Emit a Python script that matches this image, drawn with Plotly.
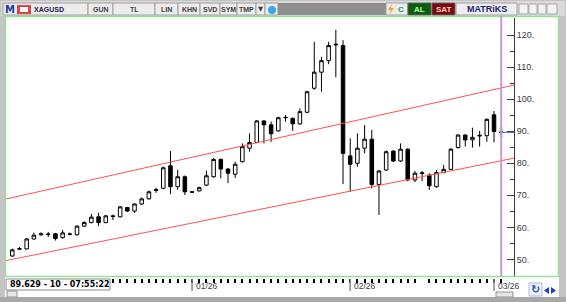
import plotly.graph_objects as go

W, H = 566, 302
def X(px): return px / W
def Y(py): return 1 - py / H

# ---------------- data ----------------
idx = list(range(1, 70))
opens = [51.1, 53.2, 53.3, 56.4, 57.7, 57.8, 58.0, 56.8, 57.8, 57.7,
         60.4, 61.5, 63.3, 61.5, 63.6, 63.3, 66.2, 65.1, 67.3, 68.9,
         71.5, 72.2, 79.2, 72.7, 75.8, 71.1, 71.4, 73.2, 75.8, 81.2,
         78.2, 76.6, 80.5, 84.7, 86.5, 93.2, 92.0, 90.1, 94.2, 94.0,
         92.3, 95.9, 103.4, 108.4, 112.0, 116.9, 116.7, 82.3, 80.0, 84.7,
         87.5, 73.4, 77.9, 83.8, 80.7, 84.4, 74.8, 76.8, 76.3, 72.7,
         77.1, 78.1, 84.9, 88.8, 87.3, 88.5, 88.6, 95.1, 89.75]
highs = [53.4, 53.9, 56.7, 58.4, 58.5, 58.6, 58.3, 59.2, 58.4, 60.6,
         61.9, 64.2, 64.6, 63.9, 64.0, 66.7, 66.4, 67.5, 69.3, 71.5,
         72.4, 79.0, 83.8, 77.9, 76.2, 71.2, 72.7, 77.7, 81.6, 81.5,
         78.5, 80.5, 86.2, 89.3, 93.5, 93.4, 93.0, 94.5, 95.1, 94.3,
         97.1, 102.6, 117.9, 113.2, 117.9, 121.6, 118.4, 87.8, 89.3, 91.9,
         90.4, 77.9, 84.0, 84.1, 86.2, 84.7, 77.6, 77.6, 76.9, 77.9,
         79.5, 84.7, 89.1, 89.1, 91.1, 90.1, 94.0, 96.3, 90.1]
lows = [50.8, 52.9, 53.1, 56.2, 57.4, 57.0, 55.9, 56.5, 57.5, 57.5,
        60.2, 61.3, 60.4, 61.3, 62.3, 63.1, 64.8, 64.5, 67.0, 68.7,
        70.8, 71.9, 70.4, 71.7, 70.1, 70.9, 71.2, 72.9, 75.5, 75.3,
        73.8, 75.4, 80.2, 83.6, 86.3, 86.2, 86.7, 89.9, 93.0, 90.1,
        92.0, 95.6, 102.9, 102.3, 110.9, 106.8, 73.5, 71.1, 78.9, 83.1,
        72.2, 63.9, 77.6, 80.4, 80.4, 74.4, 74.1, 74.4, 71.7, 72.4,
        76.9, 77.9, 84.6, 85.2, 84.9, 85.2, 86.7, 86.5, 89.2]
closes = [53.0, 53.4, 56.4, 57.6, 58.0, 57.9, 56.5, 58.3, 57.95, 60.4,
          61.5, 63.2, 61.5, 63.6, 63.4, 66.4, 65.1, 67.3, 68.9, 71.1,
          71.8, 78.6, 72.7, 75.8, 71.1, 71.0, 72.4, 76.1, 81.2, 78.2,
          76.9, 79.7, 85.2, 86.5, 93.2, 92.0, 89.2, 94.2, 94.3, 92.3,
          96.1, 102.3, 108.4, 112.0, 116.7, 117.1, 83.1, 79.7, 84.7, 87.5,
          73.4, 77.6, 83.6, 80.7, 84.4, 74.8, 76.9, 77.0, 73.0, 77.1,
          78.1, 84.4, 88.8, 87.3, 88.1, 88.7, 93.7, 89.9, 89.63]

# channel lines (candle index, price)
chan_x = [0.0, 71.0]
upper_y = [68.8, 104.5]
lower_y = [49.6, 81.7]

last_price = 89.629
cursor_idx = 69

month_idx = [26, 48, 68]
month_labels = ["01/26", "02/26", "03/26"]

y_ticks = [50, 60, 70, 80, 90, 100, 110, 120]
y_ticktext = ["50.", "60.", "70.", "80.", "90.", "100.", "110.", "120."]
y_minor = [45, 55, 65, 75, 85, 95, 105, 115, 125]

tick_idx = [i for i in range(15, 70) if i != 58]

status_text = "89.629 - 10 - 07:55:22"

x_range = [0.124, 70.78]
y_range = [44.85, 125.3]

# ---------------- figure ----------------
fig = go.Figure()

fig.add_trace(go.Scatter(x=chan_x, y=upper_y, mode="lines",
                         line=dict(color="#ff5252", width=1), hoverinfo="skip"))
fig.add_trace(go.Scatter(x=chan_x, y=lower_y, mode="lines",
                         line=dict(color="#ff5252", width=1), hoverinfo="skip"))

fig.add_trace(go.Candlestick(
    x=idx, open=opens, high=highs, low=lows, close=closes,
    increasing=dict(line=dict(color="#000000", width=1), fillcolor="#ffffff"),
    decreasing=dict(line=dict(color="#000000", width=1), fillcolor="#000000"),
    whiskerwidth=0, hoverinfo="skip"))

fig.add_trace(go.Scatter(x=[cursor_idx, x_range[1]], y=[last_price, last_price],
                         mode="lines", line=dict(color="#6a6ad8", width=1.2),
                         hoverinfo="skip"))

shapes = []
def rect(x0, y0, x1, y1, fill, line=None, lw=1, layer="below"):
    shapes.append(dict(type="rect", xref="paper", yref="paper",
                       x0=X(x0), x1=X(x1), y0=Y(y1), y1=Y(y0),
                       fillcolor=fill, line=dict(color=line or fill, width=lw if line else 0),
                       layer=layer))

# window body
rect(5, 16, 559, 297, "#ffffff")
# toolbar
rect(1, 1, 565, 16, "#dadada")
rect(3, 3, 88, 15, "#ececec", "#a0a0a0")
btns = [(88, 113, "GUN"), (113, 155, "TL"), (155, 178, "LIN"), (178, 200, "KHN"),
        (200, 220, "SVD"), (220, 237, "SYM"), (237, 256, "TMP"), (256, 265, "▼")]
for x0, x1, _ in btns:
    rect(x0, 3, x1, 15, "#ececec", "#a0a0a0")
rect(265, 3, 278, 15, "#ececec", "#a0a0a0")
rect(278, 3, 386, 15, "#8e8e8e")
rect(386, 3, 408, 15, "#ececec", "#a0a0a0")
rect(408, 3, 431, 15, "#0b5d0b", "#606060")
rect(432, 3, 455, 15, "#7a0a0a", "#606060")
rect(456, 3, 517, 15, "#ededf2", "#a0a0a0")
for x0, x1 in [(519, 528), (529, 537), (538, 546), (547, 557)]:
    rect(x0, 4, x1, 14, "#f2f2f2", "#a8a8a8")
# flag icon
rect(17, 5, 31, 14, "#d84848")
rect(20, 7, 28, 12, "#f4f4f4")
# twitter bird
shapes.append(dict(type="circle", xref="paper", yref="paper",
                   x0=X(268), x1=X(276), y0=Y(14), y1=Y(6),
                   fillcolor="#3aa6e8", line=dict(width=0)))
# lightning
shapes.append(dict(type="path", xref="paper", yref="paper",
                   path=f"M {X(392)} {Y(4)} L {X(388)} {Y(10)} L {X(391)} {Y(10)} L {X(389)} {Y(15)} L {X(394)} {Y(8)} L {X(391)} {Y(8)} Z",
                   fillcolor="#f0a020", line=dict(width=0)))

# chart border (green)
rect(5.5, 16.5, 558.5, 276.5, "rgba(0,0,0,0)", "#98e098", 1.5, layer="above")
# status box
rect(6, 279, 110, 290, "#ffffff", "#8a8a8a")
rect(7, 291, 17, 297, "#e6e6e6", "#909090")
rect(496, 292, 513, 297, "#e6e6e6", "#909090")
# bottom strip
rect(0, 297, 566, 302, "#a8a8a8")
# nav icons
shapes.append(dict(type="path", xref="paper", yref="paper",
                   path=f"M {X(549)} {Y(287)} L {X(549)} {Y(294)} L {X(544)} {Y(290.5)} Z",
                   fillcolor="#1f3fc8", line=dict(width=0)))
shapes.append(dict(type="path", xref="paper", yref="paper",
                   path=f"M {X(551)} {Y(287)} L {X(551)} {Y(294)} L {X(556)} {Y(290.5)} Z",
                   fillcolor="#1f3fc8", line=dict(width=0)))
rect(529, 283, 542, 296, "#eef2fb", "#b0b8d0")

# cursor highlight + purple line (data coords)
shapes.append(dict(type="rect", xref="x", yref="y",
                   x0=cursor_idx - 0.3, x1=cursor_idx + 0.3,
                   y0=last_price - 1.6, y1=last_price + 1.6,
                   fillcolor="#c4f2c4", line=dict(width=0), layer="below"))
shapes.append(dict(type="line", xref="x", yref="paper",
                   x0=cursor_idx, x1=cursor_idx, y0=Y(276), y1=Y(16),
                   line=dict(color="#c898d0", width=2), layer="above"))
# month lines
for m in month_idx:
    shapes.append(dict(type="line", xref="x", yref="paper",
                       x0=m, x1=m, y0=Y(291), y1=Y(279),
                       line=dict(color="#8a8a8a", width=1.5)))

annotations = []
def txt(x, y, s, size=7, color="#303030", bold=True, family="Liberation Sans", xanchor="center", xref="paper", xshift=0):
    annotations.append(dict(x=x if xref != "paper" else X(x), y=Y(y), xref=xref, yref="paper",
                            text=f"<b>{s}</b>" if bold else s, showarrow=False,
                            xanchor=xanchor, yanchor="middle", xshift=xshift,
                            font=dict(size=size, color=color, family=family)))

txt(10, 9.5, "M", 10, "#1a3aa8", family="DejaVu Sans")
txt(32, 9.5, "XAGUSD", 7, "#20204a", xanchor="left")
for x0, x1, s in btns:
    txt((x0 + x1) / 2, 9.5, s, 6.5 if s == "▼" else 7, "#404040",
        family="DejaVu Sans" if s == "▼" else "Liberation Sans")
txt(401, 9.5, "C", 8, "#18a048")
txt(419.5, 9.5, "AL", 8, "#b8ffb8")
txt(443.5, 9.5, "SAT", 8, "#ffd0d0")
txt(487, 9.5, "MATRiKS", 9, "#1e1e6e")
txt(8, 284.5, status_text, 8, "#000000", family="DejaVu Sans", xanchor="left")
txt(535.5, 289.5, "↻", 11, "#1a4fd0", bold=True, family="DejaVu Sans")
for m, s in zip(month_idx, month_labels):
    txt(m, 286, s, 8.5, "#404040", bold=False, xanchor="left", xref="x", xshift=2)

fig.update_layout(
    width=W, height=H, margin=dict(l=0, r=0, t=0, b=0, pad=0),
    paper_bgcolor="#c4c4c4", plot_bgcolor="#ffffff",
    showlegend=False, shapes=shapes, annotations=annotations,
    xaxis=dict(domain=[X(6), X(514)], range=x_range, showgrid=False, zeroline=False,
               showline=False, rangeslider=dict(visible=False),
               tickmode="array", tickvals=tick_idx, ticktext=[""] * len(tick_idx),
               ticks="outside", ticklen=4, tickwidth=2, tickcolor="#000000",
               showticklabels=False, anchor="free", position=Y(278), fixedrange=True),
    yaxis=dict(domain=[Y(276), Y(18)], range=y_range, side="right", anchor="x",
               showgrid=False, zeroline=False, showline=True, linecolor="#3a3a3a", linewidth=1,
               tickmode="array", tickvals=y_ticks, ticktext=y_ticktext,
               ticks="inside", ticklen=7, tickwidth=1, tickcolor="#3a3a3a",
               tickfont=dict(size=9, color="#3a3a3a", family="Liberation Sans"),
               minor=dict(tickmode="array", tickvals=y_minor, ticks="inside", ticklen=4,
                          tickcolor="#3a3a3a", showgrid=False),
               fixedrange=True),
)

fig.write_html("out.html")
